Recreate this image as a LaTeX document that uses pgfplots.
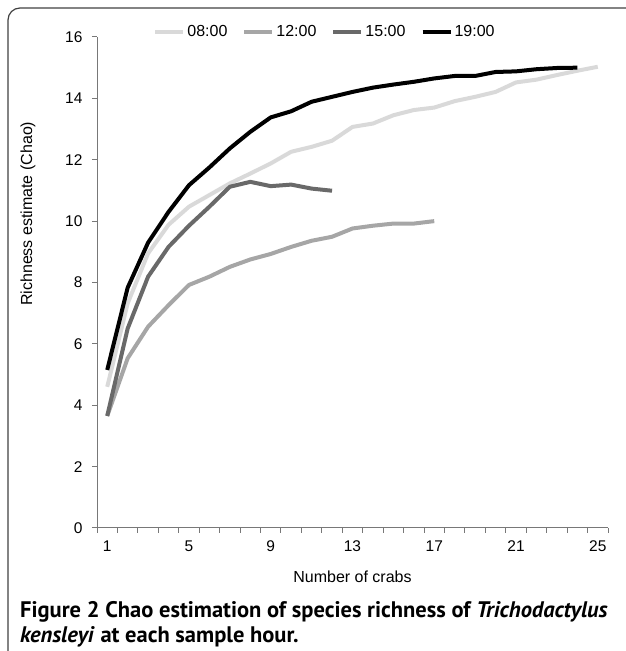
\documentclass[border=0pt]{standalone}
\usepackage{pgfplots}
\pgfplotsset{compat=1.18}
\usepackage{fontspec}
\setmainfont{Liberation Sans}
\newfontfamily\capfont{PT Sans}

\definecolor{c08}{RGB}{217,217,217}
\definecolor{c12}{RGB}{166,166,166}
\definecolor{c15}{RGB}{105,105,105}
\definecolor{axgray}{RGB}{120,120,120}

\begin{document}
\begin{tikzpicture}[x=1pt,y=1pt]
\path[use as bounding box] (0pt,0pt) rectangle (625pt,651pt);
\draw[rounded corners=12pt, line width=1.2pt, color=black!75] (8pt,-30pt) rectangle (660pt,643pt);
\begin{axis}[
  at={(97pt,123pt)}, anchor=south west, scale only axis,
  width=511pt, height=491pt,
  xmin=0.5, xmax=25.5, ymin=0, ymax=16,
  clip=false,
  axis x line*=bottom, axis y line*=left,
  axis line style={axgray, line width=1pt, -},
  tick style={axgray, line width=1pt},
  tick align=outside, major tick length=5pt, minor tick length=5pt,
  % tick marks sit between categories, labels on the categories
  xtick={0.5,4.5,8.5,12.5,16.5,20.5,24.5},
  xticklabels={1,5,9,13,17,21,25},
  minor xtick={1.5,2.5,3.5,5.5,6.5,7.5,9.5,10.5,11.5,13.5,14.5,15.5,17.5,18.5,19.5,21.5,22.5,23.5,25.5},
  ytick={0,2,...,16},
  ticklabel style={font=\fontsize{15.5}{17}\selectfont},
  xticklabel style={xshift=10.22pt, yshift=-4pt},
  yticklabel style={xshift=-6pt},
  /pgf/number format/assume math mode=true,
  xlabel={Number of crabs},
  xlabel style={at={(axis description cs:0.5,0)}, anchor=center, yshift=-49pt, font=\fontsize{16}{18}\selectfont},
  ylabel={Richness estimate (Chao)},
  ylabel style={at={(axis description cs:-0.135,0.64)}, anchor=center, font=\fontsize{16}{18}\selectfont},
  legend columns=4,
  legend style={at={(axis description cs:0.11,1.01)}, anchor=west, draw=none, fill=none,
    font=\fontsize{16}{18}\selectfont, inner sep=0pt,
    /tikz/every even column/.append style={column sep=13pt}},
  legend image code/.code={\draw[#1] (0pt,0pt) -- (28pt,0pt);},
  every axis plot/.append style={line width=4pt, line join=round, no markers},
]
\addplot[c08] coordinates {
  (1,4.6)(2,7.32)(3,8.95)(4,9.88)(5,10.47)(6,10.85)(7,11.23)(8,11.55)(9,11.88)
  (10,12.26)(11,12.42)(12,12.62)(13,13.07)(14,13.18)(15,13.45)(16,13.62)(17,13.70)
  (18,13.91)(19,14.05)(20,14.21)(21,14.52)(22,14.61)(23,14.76)(24,14.9)(25,15.03)
};
\addlegendentry{08:00}
\addplot[c12] coordinates {
  (1,3.65)(2,5.53)(3,6.56)(4,7.26)(5,7.92)(6,8.19)(7,8.51)(8,8.75)(9,8.93)
  (10,9.16)(11,9.36)(12,9.49)(13,9.76)(14,9.85)(15,9.92)(16,9.92)(17,10.0)
};
\addlegendentry{12:00}
\addplot[c15] coordinates {
  (1,3.65)(2,6.5)(3,8.19)(4,9.16)(5,9.85)(6,10.47)(7,11.12)(8,11.28)(9,11.14)
  (10,11.19)(11,11.06)(12,10.99)
};
\addlegendentry{15:00}
\addplot[black] coordinates {
  (1,5.15)(2,7.83)(3,9.3)(4,10.3)(5,11.17)(6,11.75)(7,12.37)(8,12.91)(9,13.38)
  (10,13.58)(11,13.89)(12,14.05)(13,14.21)(14,14.35)(15,14.45)(16,14.54)(17,14.65)
  (18,14.73)(19,14.73)(20,14.86)(21,14.88)(22,14.95)(23,14.99)(24,15.0)
};
\addlegendentry{19:00}
% category separators below the x axis (5pt long)
\addplot[forget plot, ycomb, axgray, line width=1pt] coordinates {
  (0.5,-0.163)(1.5,-0.163)(2.5,-0.163)(3.5,-0.163)(4.5,-0.163)(5.5,-0.163)
  (6.5,-0.163)(7.5,-0.163)(8.5,-0.163)(9.5,-0.163)(10.5,-0.163)(11.5,-0.163)
  (12.5,-0.163)(13.5,-0.163)(14.5,-0.163)(15.5,-0.163)(16.5,-0.163)(17.5,-0.163)
  (18.5,-0.163)(19.5,-0.163)(20.5,-0.163)(21.5,-0.163)(22.5,-0.163)(23.5,-0.163)
  (24.5,-0.163)(25.5,-0.163)
};
\end{axis}
\node[anchor=base west, font=\capfont\bfseries\fontsize{22.5}{26}\selectfont, inner sep=0pt] at (20pt,33pt)
  {Figure 2 Chao estimation of species richness of \textit{Trichodactylus}};
\node[anchor=base west, font=\capfont\bfseries\fontsize{22.5}{26}\selectfont, inner sep=0pt] at (20pt,9pt)
  {\textit{kensleyi} at each sample hour.};
\end{tikzpicture}
\end{document}
